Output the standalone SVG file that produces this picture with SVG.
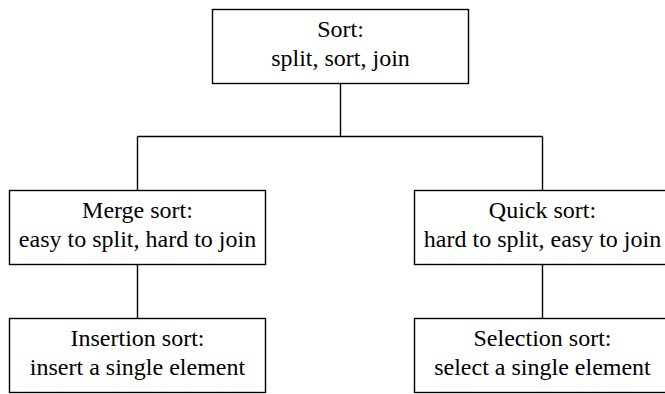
<svg xmlns="http://www.w3.org/2000/svg" width="665" height="394" viewBox="0 0 665 394">
<style>
.box{fill:#fff;stroke:#000;stroke-width:1.4}
.t{font-size:24px;fill:#000;text-anchor:middle}
.c{fill:none;stroke:#000;stroke-width:1.4}
</style>
<rect width="665" height="394" fill="#fff"/>
<g id="connectors">
<path class="c" d="M340.5 83.5V136.5M137.5 136.5H542.5M137.5 136.5V190.5M542.5 136.5V190.5M137.5 264.5V318.5M542.5 264.5V318.5"/>
</g>
<g font-family="Liberation Serif, Times New Roman, serif">
<g id="sort">
<rect class="box" x="212.5" y="9.5" width="256" height="74"/>
<text class="t" x="340.5" y="37">Sort:</text>
<text class="t" x="340.5" y="65.5">split, sort, join</text>
</g>
<g id="merge">
<rect class="box" x="9.5" y="190.5" width="256" height="74"/>
<text class="t" x="137.5" y="218">Merge sort:</text>
<text class="t" x="137.5" y="246.5">easy to split, hard to join</text>
</g>
<g id="quick">
<rect class="box" x="414.5" y="190.5" width="256" height="74"/>
<text class="t" x="542.5" y="218">Quick sort:</text>
<text class="t" x="542.5" y="246.5">hard to split, easy to join</text>
</g>
<g id="insertion">
<rect class="box" x="9.5" y="318.5" width="256" height="74"/>
<text class="t" x="137.5" y="346">Insertion sort:</text>
<text class="t" x="137.5" y="374.5">insert a single element</text>
</g>
<g id="selection">
<rect class="box" x="414.5" y="318.5" width="256" height="74"/>
<text class="t" x="542.5" y="346">Selection sort:</text>
<text class="t" x="542.5" y="374.5">select a single element</text>
</g>
</g>
</svg>
